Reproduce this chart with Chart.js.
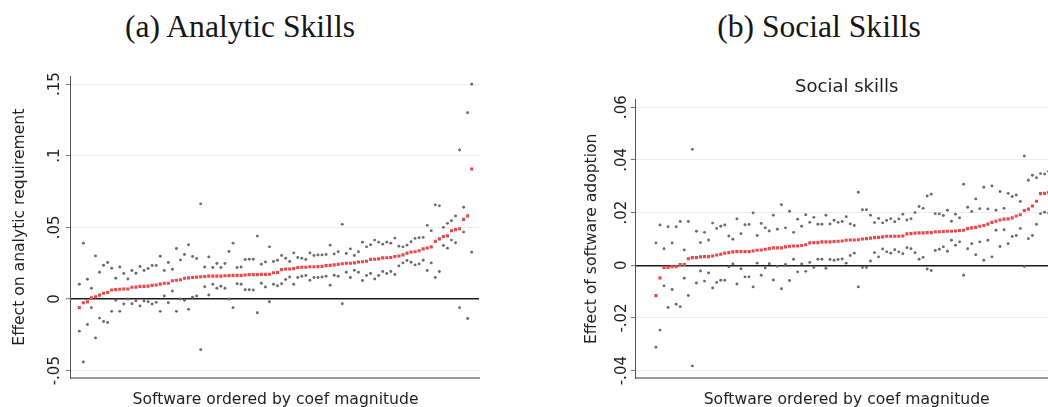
<!DOCTYPE html>
<html>
<head>
<meta charset="utf-8">
<script src="https://cdn.jsdelivr.net/npm/chart.js@4.4.1/dist/chart.umd.min.js"></script>
<style>
html,body{margin:0;padding:0;width:1048px;height:407px;overflow:hidden;background:#fff;}
.cap{position:absolute;top:11px;font-family:"Liberation Serif",serif;font-size:31.6px;line-height:31px;color:#161616;white-space:nowrap;transform:translateX(-50%);}
#capA{left:240px;}
#capB{left:819px;}
#ca{position:absolute;left:0;top:0;}
#cb{position:absolute;left:540px;top:0;}
</style>
</head>
<body>
<div class="cap" id="capA">(a) Analytic Skills</div>
<div class="cap" id="capB">(b) Social Skills</div>
<canvas id="ca" width="520" height="407"></canvas>
<canvas id="cb" width="560" height="407"></canvas>
<script>
// ---------- Panel (a): Analytic skills ----------
const coefA = [
-0.006,-0.0026,-0.002,0.0008,0.0015,0.0027,0.004,0.0046,0.0063,0.0066,
0.0068,0.007,0.007,0.0082,0.0083,0.0088,0.0088,0.009,0.0095,0.0098,
0.0104,0.011,0.011,0.0128,0.0131,0.0135,0.0145,0.0148,0.015,0.0153,
0.0155,0.0157,0.016,0.016,0.016,0.016,0.0162,0.0163,0.0165,0.0165,
0.0165,0.0168,0.017,0.017,0.017,0.0172,0.0172,0.0173,0.0183,0.0185,
0.0205,0.021,0.021,0.0212,0.022,0.0222,0.0222,0.0225,0.0225,0.0226,
0.0228,0.0233,0.0235,0.0238,0.0242,0.0246,0.025,0.025,0.0252,0.0258,
0.026,0.0264,0.0277,0.0278,0.028,0.0287,0.0288,0.029,0.0297,0.03,
0.0308,0.032,0.0328,0.033,0.0337,0.035,0.0356,0.0364,0.0402,0.042,
0.0436,0.0441,0.0476,0.0484,0.049,0.0556,0.058,0.0907];
const upperA = [
0.0103,0.039,0.0138,0.0075,0.0301,0.0187,0.0236,0.0255,0.0215,0.0145,
0.0224,0.0178,0.014,0.0199,0.018,0.0227,0.0199,0.0213,0.0234,0.0234,
0.0299,0.0199,0.0255,0.0208,0.0353,0.0273,0.0311,0.0379,0.0297,0.0283,
0.0664,0.0224,0.0294,0.022,0.0248,0.022,0.0248,0.0332,0.039,0.022,
0.0224,0.0276,0.0278,0.0278,0.0439,0.0243,0.0259,0.0364,0.0262,0.0271,
0.0304,0.0285,0.0262,0.0322,0.029,0.0285,0.0276,0.0322,0.0304,0.0308,
0.0308,0.0311,0.0376,0.0315,0.033,0.0521,0.0318,0.035,0.0304,0.033,
0.0397,0.0364,0.0379,0.0411,0.0397,0.0383,0.0397,0.039,0.0425,0.0369,
0.0364,0.0376,0.04,0.0423,0.0428,0.043,0.0514,0.0477,0.0657,0.065,
0.05,0.0528,0.0547,0.058,0.104,0.064,0.13,0.1498];
const lowerA = [
-0.0224,-0.0439,-0.0178,-0.006,-0.0271,-0.0133,-0.0157,-0.0164,-0.0086,-0.0009,
-0.0086,-0.0035,0,-0.0033,-0.0012,-0.0049,-0.0014,-0.0019,-0.0035,-0.0023,
-0.0086,0.0021,-0.0026,0.0056,-0.0086,0,-0.0009,-0.0072,0.0012,0.0021,
-0.0353,0.0086,0.0028,0.0103,0.0075,0.0089,0.0075,0,-0.006,0.0107,
0.0103,0.0065,0.0065,0.0063,-0.0096,0.011,0.0084,-0.0019,0.0103,0.0093,
0.0107,0.0136,0.0154,0.0103,0.015,0.0159,0.0164,0.0131,0.015,0.015,
0.0154,0.0159,0.0096,0.0166,0.0159,-0.0033,0.0187,0.015,0.0201,0.0187,
0.0129,0.0164,0.0178,0.014,0.0164,0.0192,0.0178,0.0192,0.0171,0.0231,
0.0252,0.0269,0.0257,0.0238,0.0245,0.0271,0.0199,0.0252,0.015,0.0192,
0.0374,0.0355,0.0411,0.0393,-0.006,0.0467,-0.0136,0.0327];
const ticksA = [-0.05, 0, 0.05, 0.1, 0.15];
const tickLabelsA = ['-.05', '0', '.05', '.1', '.15'];

// ---------- Panel (b): Social skills ----------
const coefB = [
-0.0115,-0.0048,-0.0008,-0.0008,-0.0005,-0.0005,0.0003,0.0003,0.0025,0.0029,
0.0029,0.0032,0.0033,0.0033,0.0035,0.0039,0.0042,0.0046,0.0048,0.0051,
0.0052,0.0052,0.0052,0.0052,0.0054,0.0057,0.0058,0.0061,0.0063,0.0066,
0.0066,0.0066,0.007,0.0072,0.0073,0.0073,0.0075,0.0078,0.0085,0.0086,
0.0086,0.0089,0.0089,0.0089,0.009,0.0091,0.0092,0.0095,0.0096,0.0096,
0.0097,0.01,0.0101,0.0103,0.0105,0.0106,0.0108,0.011,0.011,0.011,
0.011,0.0111,0.0119,0.012,0.0122,0.0123,0.0123,0.0124,0.0124,0.0127,
0.0127,0.0128,0.0129,0.0129,0.013,0.0132,0.0133,0.0139,0.0142,0.0144,
0.0148,0.0151,0.0156,0.0163,0.0167,0.0172,0.0175,0.0176,0.018,0.0187,
0.0192,0.0208,0.0213,0.0225,0.0243,0.0272,0.0273,0.0276];
const upperB = [
0.0085,0.0153,0.0063,0.0146,0.0085,0.0146,0.0166,0.0058,0.0166,0.044,
0.0129,0.0086,0.0125,0.0096,0.016,0.014,0.0148,0.0153,0.0111,0.0099,
0.0176,0.012,0.0154,0.0155,0.0199,0.0113,0.0159,0.0142,0.013,0.019,
0.0137,0.023,0.0142,0.0205,0.0125,0.0175,0.0148,0.0192,0.0163,0.0182,
0.0156,0.0156,0.019,0.0157,0.0171,0.0163,0.0166,0.0184,0.0157,0.0151,
0.0277,0.0211,0.0211,0.019,0.0162,0.0178,0.0161,0.017,0.0177,0.0165,
0.0176,0.0194,0.0172,0.0177,0.02,0.0223,0.0216,0.0263,0.027,0.0196,
0.0195,0.0189,0.0209,0.0167,0.0194,0.018,0.0308,0.022,0.0204,0.0252,
0.0215,0.0296,0.0214,0.0301,0.0209,0.028,0.0216,0.0273,0.0261,0.0267,
0.0242,0.0415,0.0323,0.0342,0.0332,0.0348,0.0346,0.0357];
const lowerB = [
-0.0311,-0.0246,-0.0078,-0.016,-0.0092,-0.0148,-0.0157,-0.0049,-0.0115,-0.0382,
-0.0067,-0.0022,-0.006,-0.0029,-0.0086,-0.0065,-0.0057,-0.0057,-0.0006,0.0005,
-0.0071,-0.0013,-0.0044,-0.0044,-0.0082,0.0008,-0.0038,-0.001,0.0006,-0.0056,
-0.0004,-0.0089,0.0003,-0.0058,0.0023,-0.0025,0.0005,-0.0023,0.0011,-0.0008,
0.0023,0.0023,-0.0011,0.0022,0.0019,0.0022,0.0024,0.0008,0.0037,0.0046,
-0.0082,-0.0008,-0.0008,0.0016,0.0048,0.0032,0.0062,0.0051,0.0046,0.0059,
0.0051,0.0044,0.0067,0.0063,0.0048,0.0023,0.003,-0.0014,-0.002,0.0056,
0.0061,0.007,0.0053,0.0095,0.0076,0.0089,-0.0038,0.0063,0.0082,0.004,
0.0089,0.0019,0.0095,0.0032,0.0133,0.0071,0.0135,0.0082,0.0109,0.0113,
0.014,-0.0005,0.0101,0.0113,0.0156,0.0196,0.0201,0.0198];
const ticksB = [-0.04, -0.02, 0, 0.02, 0.04, 0.06];
const tickLabelsB = ['-.04', '-.02', '0', '.02', '.04', '.06'];

const FONT = '"DejaVu Sans", sans-serif';
const GRAY = '#6a6a6a';
const RED = '#e8484b';

const toPts = arr => arr.map((v, i) => ({x: i, y: v}));

const textPlugin = {
  id: 'stataTexts',
  afterDraw(chart, args, o) {
    const ctx = chart.ctx, y = chart.scales.y, ca = chart.chartArea;
    ctx.save();
    ctx.fillStyle = '#1e1e1e';
    ctx.textAlign = 'center';
    ctx.textBaseline = 'alphabetic';
    ctx.font = '15px ' + FONT;
    o.ticks.forEach((v, k) => {
      ctx.save();
      ctx.translate(o.tickX, y.getPixelForValue(v));
      ctx.rotate(-Math.PI / 2);
      ctx.fillText(o.labels[k], 0, 0);
      ctx.restore();
    });
    ctx.font = '15.6px ' + FONT;
    ctx.save();
    ctx.translate(o.yTitleX, (ca.top + ca.bottom) / 2);
    ctx.rotate(-Math.PI / 2);
    ctx.fillText(o.yTitle, 0, 0);
    ctx.restore();
    ctx.fillText(o.xTitle, o.xTitleX, o.xTitleY);
    if (o.title) {
      ctx.font = '18px ' + FONT;
      ctx.fillText(o.title, o.titleX, o.titleY);
    }
    ctx.restore();
  }
};

function makeChart(id, cfg) {
  return new Chart(document.getElementById(id), {
    type: 'scatter',
    data: {
      datasets: [
        {data: toPts(cfg.coef), pointStyle: 'rect', pointRadius: 2.2, backgroundColor: RED, borderWidth: 0, pointHoverRadius: 2.2},
        {data: toPts(cfg.upper), pointStyle: 'circle', pointRadius: 1.45, backgroundColor: GRAY, borderWidth: 0, pointHoverRadius: 1.45},
        {data: toPts(cfg.lower), pointStyle: 'circle', pointRadius: 1.45, backgroundColor: GRAY, borderWidth: 0, pointHoverRadius: 1.45}
      ]
    },
    options: {
      responsive: false,
      animation: false,
      devicePixelRatio: 1,
      events: [],
      layout: {padding: {left: 0, top: cfg.top, right: cfg.right, bottom: 0}},
      plugins: {
        legend: {display: false},
        tooltip: {enabled: false},
        stataTexts: cfg.texts
      },
      scales: {
        x: {
          type: 'linear',
          min: cfg.xmin, max: cfg.xmax,
          ticks: {display: false},
          grid: {display: false},
          border: {display: true, color: '#9a9a9a', width: 2},
          afterFit: s => { s.height = 28.7; }
        },
        y: {
          type: 'linear',
          min: cfg.ymin, max: cfg.ymax,
          afterBuildTicks: s => { s.ticks = cfg.ticks.map(v => ({value: v})); },
          ticks: {display: false},
          grid: {
            color: c => (c.tick && Math.abs(c.tick.value) < 1e-9) ? '#1a1a1a' : '#e6eef0',
            lineWidth: c => (c.tick && Math.abs(c.tick.value) < 1e-9) ? 1.4 : 1,
            drawTicks: true, tickLength: 5, tickColor: '#777', tickWidth: 1
          },
          border: {display: true, color: '#555', width: 1},
          afterFit: s => { s.width = cfg.axisW; }
        }
      }
    },
    plugins: [textPlugin]
  });
}

makeChart('ca', {
  coef: coefA, upper: upperA, lower: lowerA, ticks: ticksA,
  top: 76, right: 41, axisW: 70.7,
  xmin: -2.13, xmax: 98.8, ymin: -0.0553, ymax: 0.1556,
  texts: {ticks: ticksA, labels: tickLabelsA, tickX: 59.3,
          yTitle: 'Effect on analytic requirement', yTitleX: 23.5,
          xTitle: 'Software ordered by coef magnitude', xTitleX: 275.5, xTitleY: 404}
});

makeChart('cb', {
  coef: coefB, upper: upperB, lower: lowerB, ticks: ticksB,
  top: 99.3, right: 2, axisW: 95.7,
  xmin: -5, xmax: 109.15, ymin: -0.0429, ymax: 0.063,
  texts: {ticks: ticksB, labels: tickLabelsB, tickX: 86,
          yTitle: 'Effect of software adoption', yTitleX: 55.7,
          xTitle: 'Software ordered by coef magnitude', xTitleX: 306.7, xTitleY: 404,
          title: 'Social skills', titleX: 306.7, titleY: 91.7}
});
</script>
</body>
</html>
